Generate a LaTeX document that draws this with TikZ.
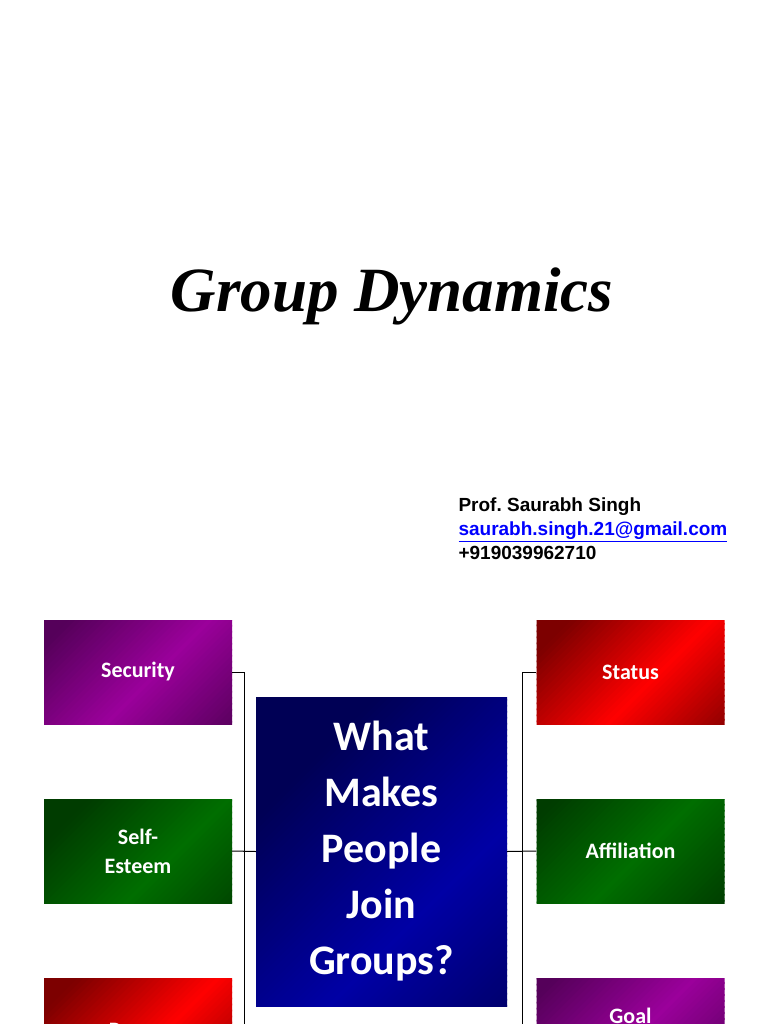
\documentclass[tikz,border=0pt]{standalone}
\usepackage{fontspec}
\setmainfont{Liberation Serif}
\newfontfamily\arialfont{Liberation Sans}
\newfontfamily\calfont{Carlito}
\frenchspacing
\definecolor{purpledark}{RGB}{85,0,90}
\definecolor{purplelite}{RGB}{155,0,155}
\definecolor{reddark}{RGB}{125,0,0}
\definecolor{redlite}{RGB}{255,0,0}
\definecolor{greendark}{RGB}{0,60,0}
\definecolor{greenlite}{RGB}{0,110,0}
\definecolor{bluedark}{RGB}{0,0,85}
\definecolor{bluelite}{RGB}{0,0,165}
\begin{document}
\begin{tikzpicture}[x=1pt,y=-1pt,
    gradfill/.style n args={3}{path picture={
      \begin{scope}[shift={(path picture bounding box.center)}]
        \foreach \c in {-450,-444,...,450} {
          \pgfmathsetmacro\p{min(100,abs(\c-47)/#3)}
          \fill[#1!\p!#2] (\c+400,-400) -- (\c-400,400) -- (\c-392.5,400) -- (\c+407.5,-400) -- cycle;
        }
      \end{scope}}},
    reason/.style={rectangle, minimum width=188pt, minimum height=104pt, inner sep=0pt,
      align=center, text=white, font=\calfont\bfseries\fontsize{22}{29}\selectfont},
    purplebox/.style={reason, gradfill={purpledark}{purplelite}{1.4}},
    redbox/.style={reason, gradfill={reddark}{redlite}{1.4}},
    greenbox/.style={reason, gradfill={greendark}{greenlite}{1.4}},
    link/.style={black, line width=1pt}]
  \useasboundingbox (0,0) rectangle (768,1024);
  \clip (0,0) rectangle (768,1024);

  % title & contact
  \node (title) at (392,296) {\bfseries\itshape\fontsize{63}{65}\selectfont Group Dynamics};
  \node[anchor=north west, align=left, font=\arialfont\bfseries\fontsize{19}{24}\selectfont] (contact) at (455,494)
    {Prof. Saurabh Singh\\ \textcolor{blue}{\underline{saurabh.singh.21@gmail.com}}\\ +919039962710};

  % centre question
  \node[rectangle, minimum width=251pt, minimum height=309pt, inner sep=0pt, align=center, text=white,
    font=\calfont\bfseries\fontsize{42}{56}\selectfont, gradfill={bluedark}{bluelite}{2.6}] (what) at (381.5,851.5)
    {What\\Makes\\People\\Join\\Groups?};

  % reasons
  \node[purplebox] (security) at (138,672) {Security};
  \node[greenbox] (esteem) at (138,851) {Self-\\Esteem};
  \node[redbox] (power) at (138,1030) {Power};
  \node[redbox] (status) at (630.5,672) {Status};
  \node[greenbox] (affil) at (630.5,851) {Affiliation};
  \node[purplebox] (goal) at (630.5,1030) {Goal\\Achievement};

  % connectors
  \coordinate (lbus) at (244,672);
  \coordinate (rbus) at (522,672);
  \draw[link] (security.east) -- (lbus) -- (lbus |- power.east) -- (power.east);
  \draw[link] (esteem.east) -- (what.west);
  \draw[link] (status.west) -- (rbus) -- (rbus |- goal.west) -- (goal.west);
  \draw[link] (affil.west) -- (what.east);
\end{tikzpicture}
\end{document}
